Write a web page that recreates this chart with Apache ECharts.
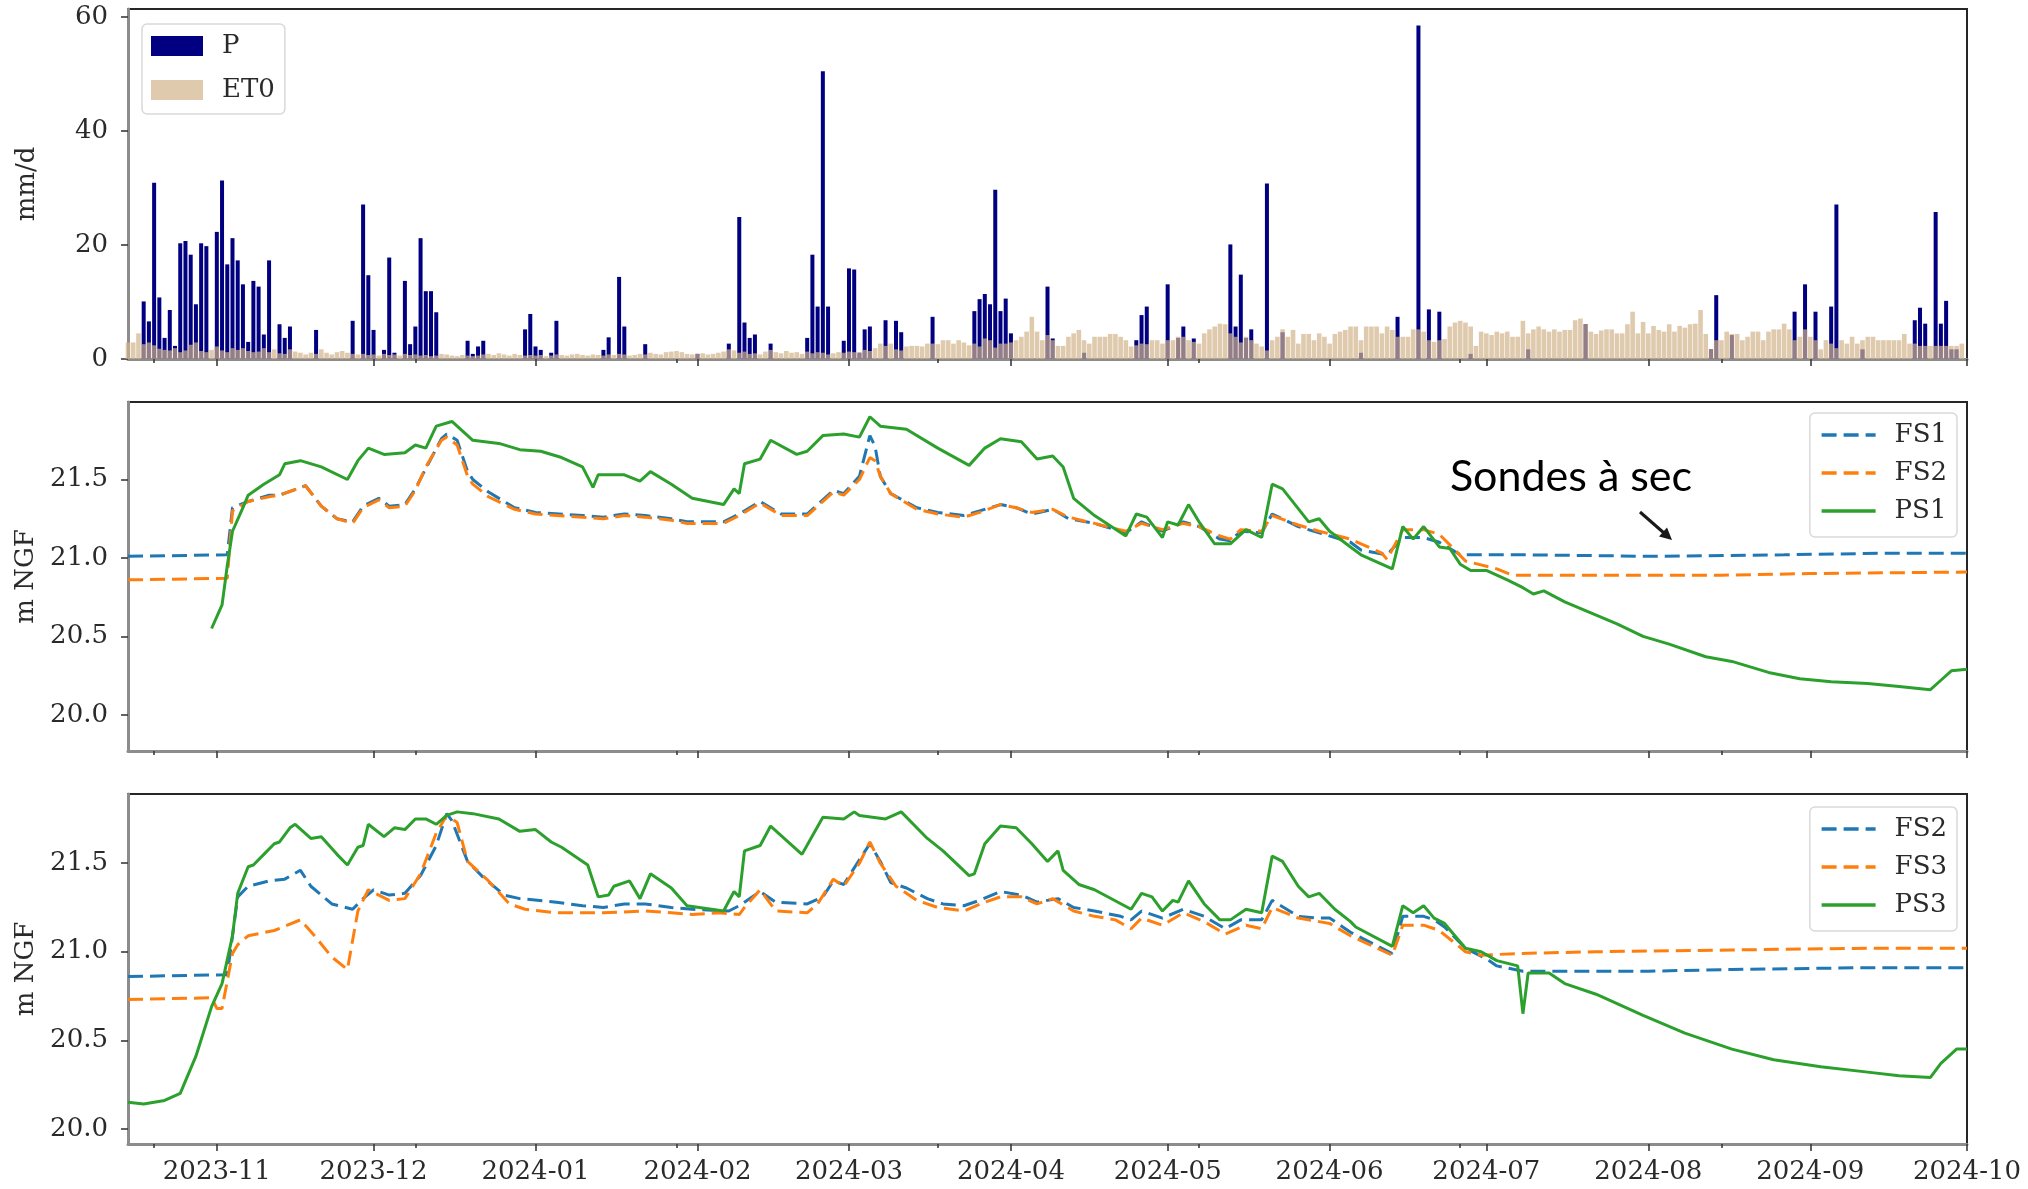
<!DOCTYPE html>
<html>
<head>
<meta charset="utf-8">
<script src="https://cdn.jsdelivr.net/npm/echarts@6/dist/echarts.min.js"></script>
<style>
  html, body { margin: 0; padding: 0; background: #ffffff; }
  #chart { width: 2028px; height: 1189px; }
</style>
</head>
<body>
<div id="chart"></div>
<script>
// ---------------------------------------------------------------------------
// Climate forcing and groundwater levels, Oct 2023 - Oct 2024
// ---------------------------------------------------------------------------

// Time window and ticks
const X_MIN = '2023-10-15';
const X_MAX = '2024-10-01';
const MONTH_TICKS = ['2023-11-01', '2023-12-01', '2024-01-01', '2024-02-01', '2024-03-01', '2024-04-01',
                     '2024-05-01', '2024-06-01', '2024-07-01', '2024-08-01', '2024-09-01', '2024-10-01'];
const MINOR_TICKS = ['2023-10-20', '2023-12-09', '2024-01-28', '2024-03-18', '2024-05-07', '2024-06-26', '2024-08-15'];

const RAIN_TICKS = [0, 20, 40, 60];
const LEVEL_TICKS = [20.0, 20.5, 21.0, 21.5];

// Daily precipitation P (mm/d), rainy days only
const P_AUTUMN = [
  ['2023-10-18', 10.1], ['2023-10-19', 6.6], ['2023-10-20', 30.9], ['2023-10-21', 10.8], ['2023-10-22', 3.7],
  ['2023-10-23', 8.6], ['2023-10-24', 2.3], ['2023-10-25', 20.3], ['2023-10-26', 20.7], ['2023-10-27', 18.3],
  ['2023-10-28', 9.6], ['2023-10-29', 20.3], ['2023-10-30', 19.8],
  ['2023-11-01', 22.3], ['2023-11-02', 31.3], ['2023-11-03', 16.6], ['2023-11-04', 21.2], ['2023-11-05', 17.3],
  ['2023-11-06', 13.1], ['2023-11-07', 3.0], ['2023-11-08', 13.7], ['2023-11-09', 12.7], ['2023-11-10', 4.3],
  ['2023-11-11', 17.3], ['2023-11-13', 6.1], ['2023-11-14', 3.7], ['2023-11-15', 5.7], ['2023-11-20', 5.1],
  ['2023-11-27', 6.7], ['2023-11-29', 27.1], ['2023-11-30', 14.7]
];
const P_WINTER = [
  ['2023-12-01', 5.1], ['2023-12-03', 1.6], ['2023-12-04', 17.8], ['2023-12-05', 1.1], ['2023-12-07', 13.7],
  ['2023-12-08', 2.6], ['2023-12-09', 5.7], ['2023-12-10', 21.2], ['2023-12-11', 11.9], ['2023-12-12', 11.9],
  ['2023-12-13', 8.2], ['2023-12-19', 3.2], ['2023-12-20', 0.9], ['2023-12-21', 2.2], ['2023-12-22', 3.2],
  ['2023-12-30', 5.2], ['2023-12-31', 7.9],
  ['2024-01-01', 2.2], ['2024-01-02', 1.6], ['2024-01-04', 1.1], ['2024-01-05', 6.7], ['2024-01-14', 1.6],
  ['2024-01-15', 3.8], ['2024-01-17', 14.4], ['2024-01-18', 5.7], ['2024-01-22', 2.6],
  ['2024-02-01', 0.9], ['2024-02-07', 2.7], ['2024-02-09', 24.9], ['2024-02-10', 6.4], ['2024-02-11', 3.7],
  ['2024-02-12', 4.3], ['2024-02-15', 2.7], ['2024-02-22', 3.7], ['2024-02-23', 18.3], ['2024-02-24', 9.2],
  ['2024-02-25', 50.5], ['2024-02-26', 9.2], ['2024-02-29', 3.2]
];
const P_SPRING = [
  ['2024-03-01', 15.9], ['2024-03-02', 15.7], ['2024-03-03', 1.1], ['2024-03-04', 5.2], ['2024-03-05', 5.7],
  ['2024-03-08', 6.8], ['2024-03-10', 6.7], ['2024-03-11', 4.7], ['2024-03-17', 7.4], ['2024-03-25', 8.4],
  ['2024-03-26', 10.5], ['2024-03-27', 11.4], ['2024-03-28', 9.6], ['2024-03-29', 29.7], ['2024-03-30', 8.4],
  ['2024-03-31', 10.6],
  ['2024-04-01', 4.5], ['2024-04-08', 12.7], ['2024-04-09', 3.6], ['2024-04-15', 1.1], ['2024-04-25', 3.3],
  ['2024-04-26', 7.7], ['2024-04-27', 9.2],
  ['2024-05-01', 13.1], ['2024-05-03', 3.7], ['2024-05-04', 5.7], ['2024-05-06', 3.6], ['2024-05-13', 20.1],
  ['2024-05-14', 5.7], ['2024-05-15', 14.8], ['2024-05-16', 3.7], ['2024-05-17', 5.2], ['2024-05-20', 30.8],
  ['2024-05-23', 4.7]
];
const P_SUMMER = [
  ['2024-06-07', 1.1], ['2024-06-14', 7.4], ['2024-06-18', 58.5], ['2024-06-20', 8.7], ['2024-06-22', 8.3],
  ['2024-06-28', 0.9],
  ['2024-07-09', 1.7], ['2024-07-20', 6.1],
  ['2024-08-13', 1.7], ['2024-08-14', 11.2], ['2024-08-17', 4.2], ['2024-08-29', 8.3], ['2024-08-31', 13.1],
  ['2024-09-02', 8.3], ['2024-09-05', 9.2], ['2024-09-06', 27.1], ['2024-09-11', 1.7], ['2024-09-21', 6.8],
  ['2024-09-22', 9.0], ['2024-09-23', 6.2], ['2024-09-25', 25.8], ['2024-09-26', 6.2], ['2024-09-27', 10.2],
  ['2024-09-28', 1.7], ['2024-09-29', 1.7]
];

// Daily reference evapotranspiration ET0 (mm/d), one value per day from 15 Oct 2023
const ET0_OCT = [2.9, 2.9, 4.5, 2.6, 2.9, 2.4, 1.8, 1.6, 1.5, 1.9, 1.2, 1.5, 2.5, 2.9, 1.4, 1.2, 1.6];
const ET0_NOV = [2.2, 1.5, 1.2, 1.9, 1.6, 1.9, 1.4, 1.2, 1.3, 1.9, 1.2, 1.7, 1.0, 0.9, 1.7, 1.3, 1.1, 0.8, 1.1, 0.9,
                 1.7, 1.1, 0.8, 1.2, 1.4, 1.1, 0.9, 0.8, 0.9, 0.7];
const ET0_DEC = [0.8, 0.6, 0.9, 0.7, 0.8, 0.6, 0.9, 0.7, 0.8, 0.6, 0.7, 0.5, 0.6, 0.9, 0.8, 0.6, 0.5, 0.7, 0.6, 0.5,
                 0.6, 0.8, 0.9, 0.7, 1.0, 0.8, 0.6, 0.9, 0.7, 0.6, 0.7];
const ET0_JAN = [0.6, 0.7, 0.5, 0.6, 0.8, 0.7, 0.6, 0.8, 0.9, 0.7, 0.6, 0.8, 0.7, 0.6, 0.8, 0.7, 0.9, 0.8, 0.6, 0.7,
                 0.9, 0.8, 1.1, 0.9, 0.8, 1.2, 1.3, 1.4, 1.2, 0.9, 0.8];
const ET0_FEB = [0.9, 1.0, 0.8, 0.9, 1.1, 1.3, 1.7, 1.5, 1.1, 1.3, 0.9, 1.0, 0.8, 1.3, 1.6, 1.2, 1.0, 1.4, 1.1, 1.2,
                 0.9, 1.3, 1.0, 1.2, 1.1, 0.8, 1.0, 1.2, 1.1];
const ET0_MAR = [1.3, 1.2, 1.1, 1.6, 1.4, 1.9, 2.7, 2.3, 2.7, 1.7, 1.5, 2.2, 2.3, 2.3, 2.2, 2.7, 2.7, 2.6, 3.3, 3.3,
                 2.7, 3.3, 2.9, 2.4, 2.7, 2.2, 3.6, 3.3, 2.0, 2.7, 2.7];
const ET0_APR = [2.9, 3.3, 3.9, 4.8, 7.4, 4.8, 3.3, 4.2, 3.3, 2.3, 2.3, 3.9, 4.5, 5.1, 3.3, 2.7, 3.9, 3.9, 3.9, 4.4,
                 4.4, 3.9, 3.3, 2.2, 2.4, 2.7, 2.6, 3.3, 3.3, 2.7];
const ET0_MAY = [3.3, 3.3, 3.9, 3.9, 3.3, 3.0, 2.7, 4.5, 5.2, 5.7, 6.2, 6.1, 4.5, 3.9, 2.9, 3.9, 3.3, 2.7, 2.2, 1.5,
                 3.3, 3.9, 5.2, 3.9, 5.1, 2.7, 4.4, 4.4, 3.3, 4.5, 3.9];
const ET0_JUN = [2.7, 4.4, 4.8, 5.1, 5.7, 5.7, 3.3, 5.7, 5.7, 5.7, 4.5, 5.7, 5.1, 3.9, 3.9, 3.9, 5.2, 5.2, 4.8, 3.3,
                 3.0, 3.3, 3.5, 5.7, 6.4, 6.7, 6.4, 5.7, 2.3, 4.8];
const ET0_JUL = [4.5, 4.2, 4.8, 4.5, 4.8, 3.9, 3.9, 6.7, 4.5, 5.2, 5.7, 5.2, 4.8, 5.2, 4.8, 5.1, 5.1, 6.8, 7.1, 6.1,
                 4.8, 4.4, 5.0, 5.2, 5.2, 4.5, 4.5, 6.1, 8.3, 4.5, 6.5];
const ET0_AUG = [4.5, 5.8, 5.1, 4.8, 6.1, 4.8, 5.8, 5.5, 6.1, 6.2, 8.6, 4.4, 1.7, 3.3, 3.3, 4.8, 4.4, 4.4, 3.3, 3.9,
                 4.8, 4.8, 3.3, 4.8, 5.2, 5.2, 6.2, 5.2, 3.3, 3.9, 5.2];
const ET0_SEP = [3.9, 3.3, 1.7, 3.3, 2.7, 1.9, 3.3, 2.7, 3.9, 2.7, 3.3, 3.9, 3.9, 3.3, 3.3, 3.3, 3.3, 3.3, 4.4, 2.7,
                 2.7, 2.3, 2.3, 2.3, 2.3, 2.3, 2.3, 2.3, 2.3, 2.7];

// Groundwater levels (m NGF) — first site: FS1, FS2, PS1
const FS1_A = [
  ['2023-10-15', 21.01], ['2023-11-03', 21.02], ['2023-11-04', 21.32], ['2023-11-07', 21.36], ['2023-11-11', 21.40],
  ['2023-11-13', 21.40], ['2023-11-18', 21.46], ['2023-11-21', 21.33], ['2023-11-24', 21.25], ['2023-11-27', 21.23],
  ['2023-11-29', 21.33], ['2023-12-02', 21.38], ['2023-12-04', 21.33], ['2023-12-07', 21.34], ['2023-12-09', 21.44],
  ['2023-12-11', 21.57], ['2023-12-14', 21.76], ['2023-12-15', 21.79], ['2023-12-17', 21.75], ['2023-12-19', 21.55],
  ['2023-12-20', 21.50], ['2023-12-23', 21.42], ['2023-12-28', 21.32], ['2024-01-01', 21.29], ['2024-01-10', 21.27],
  ['2024-01-14', 21.26], ['2024-01-18', 21.28], ['2024-01-22', 21.27], ['2024-01-27', 21.25], ['2024-01-30', 21.23],
  ['2024-02-06', 21.23], ['2024-02-09', 21.28], ['2024-02-13', 21.36], ['2024-02-17', 21.28], ['2024-02-22', 21.28],
  ['2024-02-24', 21.34], ['2024-02-27', 21.43], ['2024-02-29', 21.41], ['2024-03-03', 21.52], ['2024-03-05', 21.78],
  ['2024-03-06', 21.71], ['2024-03-07', 21.52], ['2024-03-09', 21.41], ['2024-03-14', 21.32], ['2024-03-18', 21.29],
  ['2024-03-23', 21.27], ['2024-03-26', 21.30], ['2024-03-30', 21.34], ['2024-04-02', 21.32], ['2024-04-05', 21.28],
  ['2024-04-09', 21.31], ['2024-04-12', 21.25], ['2024-04-17', 21.22], ['2024-04-23', 21.16], ['2024-04-26', 21.23],
  ['2024-04-30', 21.17], ['2024-05-04', 21.23], ['2024-05-07', 21.20], ['2024-05-11', 21.12], ['2024-05-13', 21.11],
  ['2024-05-15', 21.17], ['2024-05-19', 21.16], ['2024-05-21', 21.28], ['2024-05-26', 21.20], ['2024-05-30', 21.16],
  ['2024-06-05', 21.10], ['2024-06-07', 21.05], ['2024-06-12', 21.02], ['2024-06-15', 21.13], ['2024-06-19', 21.13],
  ['2024-06-22', 21.10], ['2024-06-26', 21.02], ['2024-07-08', 21.02], ['2024-08-02', 21.01], ['2024-08-27', 21.02],
  ['2024-09-16', 21.03], ['2024-10-01', 21.03]
];
const FS2_A = [
  ['2023-10-15', 20.86], ['2023-11-03', 20.87], ['2023-11-04', 21.30], ['2023-11-07', 21.36], ['2023-11-11', 21.39],
  ['2023-11-13', 21.40], ['2023-11-18', 21.46], ['2023-11-21', 21.33], ['2023-11-24', 21.25], ['2023-11-27', 21.22],
  ['2023-11-29', 21.32], ['2023-12-02', 21.37], ['2023-12-04', 21.32], ['2023-12-07', 21.33], ['2023-12-09', 21.43],
  ['2023-12-11', 21.58], ['2023-12-14', 21.75], ['2023-12-15', 21.77], ['2023-12-17', 21.72], ['2023-12-19', 21.52],
  ['2023-12-20', 21.47], ['2023-12-23', 21.39], ['2023-12-28', 21.31], ['2024-01-01', 21.28], ['2024-01-10', 21.26],
  ['2024-01-14', 21.25], ['2024-01-18', 21.27], ['2024-01-22', 21.26], ['2024-01-27', 21.24], ['2024-01-30', 21.22],
  ['2024-02-06', 21.22], ['2024-02-09', 21.27], ['2024-02-13', 21.35], ['2024-02-17', 21.27], ['2024-02-22', 21.27],
  ['2024-02-24', 21.33], ['2024-02-27', 21.42], ['2024-02-29', 21.40], ['2024-03-03', 21.50], ['2024-03-05', 21.64],
  ['2024-03-06', 21.62], ['2024-03-07', 21.52], ['2024-03-09', 21.41], ['2024-03-14', 21.31], ['2024-03-18', 21.28],
  ['2024-03-23', 21.26], ['2024-03-26', 21.29], ['2024-03-30', 21.34], ['2024-04-02', 21.32], ['2024-04-05', 21.29],
  ['2024-04-09', 21.31], ['2024-04-12', 21.26], ['2024-04-17', 21.22], ['2024-04-23', 21.17], ['2024-04-26', 21.22],
  ['2024-04-30', 21.18], ['2024-05-04', 21.22], ['2024-05-07', 21.20], ['2024-05-11', 21.14], ['2024-05-13', 21.12],
  ['2024-05-15', 21.18], ['2024-05-19', 21.17], ['2024-05-21', 21.27], ['2024-05-26', 21.21], ['2024-05-30', 21.17],
  ['2024-06-05', 21.12], ['2024-06-07', 21.09], ['2024-06-11', 21.03], ['2024-06-12', 20.99], ['2024-06-15', 21.18],
  ['2024-06-19', 21.18], ['2024-06-22', 21.15], ['2024-06-25', 21.05], ['2024-06-27', 20.98], ['2024-07-03', 20.93],
  ['2024-07-06', 20.89], ['2024-08-15', 20.89], ['2024-09-01', 20.90], ['2024-10-01', 20.91]
];
const PS1_A = [
  ['2023-10-31', 20.55], ['2023-11-02', 20.70], ['2023-11-03', 20.95], ['2023-11-04', 21.17], ['2023-11-06', 21.32],
  ['2023-11-07', 21.40], ['2023-11-10', 21.47], ['2023-11-13', 21.53], ['2023-11-14', 21.60], ['2023-11-17', 21.62],
  ['2023-11-21', 21.58], ['2023-11-26', 21.50], ['2023-11-28', 21.62], ['2023-11-30', 21.70], ['2023-12-03', 21.66],
  ['2023-12-07', 21.67], ['2023-12-09', 21.72], ['2023-12-11', 21.70], ['2023-12-13', 21.84], ['2023-12-16', 21.87],
  ['2023-12-17', 21.84], ['2023-12-20', 21.75], ['2023-12-25', 21.73], ['2023-12-29', 21.69], ['2024-01-02', 21.68],
  ['2024-01-06', 21.64], ['2024-01-10', 21.58], ['2024-01-12', 21.45], ['2024-01-13', 21.53], ['2024-01-18', 21.53],
  ['2024-01-21', 21.49], ['2024-01-23', 21.55], ['2024-01-27', 21.47], ['2024-01-31', 21.38], ['2024-02-06', 21.34],
  ['2024-02-08', 21.44], ['2024-02-09', 21.41], ['2024-02-10', 21.60], ['2024-02-13', 21.63], ['2024-02-15', 21.75],
  ['2024-02-20', 21.66], ['2024-02-22', 21.68], ['2024-02-25', 21.78], ['2024-02-29', 21.79], ['2024-03-03', 21.77],
  ['2024-03-05', 21.90], ['2024-03-07', 21.84], ['2024-03-12', 21.82], ['2024-03-18', 21.70], ['2024-03-24', 21.59],
  ['2024-03-27', 21.70], ['2024-03-30', 21.76], ['2024-04-03', 21.74], ['2024-04-06', 21.63], ['2024-04-09', 21.65],
  ['2024-04-11', 21.58], ['2024-04-13', 21.38], ['2024-04-17', 21.27], ['2024-04-23', 21.14], ['2024-04-25', 21.28],
  ['2024-04-27', 21.26], ['2024-04-30', 21.13], ['2024-05-01', 21.23], ['2024-05-03', 21.21], ['2024-05-05', 21.34],
  ['2024-05-07', 21.23], ['2024-05-10', 21.09], ['2024-05-13', 21.09], ['2024-05-16', 21.18], ['2024-05-19', 21.13],
  ['2024-05-21', 21.47], ['2024-05-23', 21.44], ['2024-05-28', 21.23], ['2024-05-30', 21.25], ['2024-06-01', 21.17],
  ['2024-06-05', 21.07], ['2024-06-07', 21.02], ['2024-06-13', 20.93], ['2024-06-15', 21.20], ['2024-06-17', 21.12],
  ['2024-06-19', 21.20], ['2024-06-22', 21.07], ['2024-06-24', 21.06], ['2024-06-26', 20.96], ['2024-06-28', 20.92],
  ['2024-07-01', 20.92], ['2024-07-05', 20.86], ['2024-07-08', 20.81], ['2024-07-10', 20.77], ['2024-07-12', 20.79],
  ['2024-07-16', 20.72], ['2024-07-21', 20.65], ['2024-07-26', 20.58], ['2024-07-31', 20.50], ['2024-08-05', 20.45],
  ['2024-08-12', 20.37], ['2024-08-17', 20.34], ['2024-08-24', 20.27], ['2024-08-30', 20.23], ['2024-09-05', 20.21],
  ['2024-09-12', 20.20], ['2024-09-18', 20.18], ['2024-09-24', 20.16], ['2024-09-26', 20.22], ['2024-09-28', 20.28],
  ['2024-10-01', 20.29]
];

// Groundwater levels (m NGF) — second site: FS2, FS3, PS3
const FS2_B = [
  ['2023-10-15', 20.86], ['2023-11-03', 20.87], ['2023-11-05', 21.31], ['2023-11-07', 21.37], ['2023-11-11', 21.40],
  ['2023-11-14', 21.41], ['2023-11-17', 21.46], ['2023-11-19', 21.37], ['2023-11-23', 21.27], ['2023-11-27', 21.24],
  ['2023-11-29', 21.30], ['2023-12-01', 21.35], ['2023-12-04', 21.32], ['2023-12-07', 21.33], ['2023-12-10', 21.43],
  ['2023-12-13', 21.60], ['2023-12-15', 21.78], ['2023-12-16', 21.74], ['2023-12-19', 21.51], ['2023-12-22', 21.42],
  ['2023-12-26', 21.32], ['2023-12-29', 21.30], ['2024-01-05', 21.28], ['2024-01-10', 21.26], ['2024-01-14', 21.25],
  ['2024-01-18', 21.27], ['2024-01-22', 21.27], ['2024-01-27', 21.25], ['2024-01-31', 21.24], ['2024-02-07', 21.23],
  ['2024-02-09', 21.26], ['2024-02-13', 21.34], ['2024-02-16', 21.28], ['2024-02-22', 21.27], ['2024-02-25', 21.31],
  ['2024-02-27', 21.40], ['2024-02-29', 21.38], ['2024-03-03', 21.52], ['2024-03-05', 21.61], ['2024-03-07', 21.51],
  ['2024-03-09', 21.39], ['2024-03-12', 21.36], ['2024-03-16', 21.30], ['2024-03-19', 21.27], ['2024-03-23', 21.26],
  ['2024-03-26', 21.29], ['2024-03-30', 21.34], ['2024-04-03', 21.32], ['2024-04-06', 21.28], ['2024-04-10', 21.30],
  ['2024-04-13', 21.25], ['2024-04-17', 21.23], ['2024-04-22', 21.20], ['2024-04-24', 21.18], ['2024-04-26', 21.23],
  ['2024-04-30', 21.19], ['2024-05-04', 21.24], ['2024-05-08', 21.20], ['2024-05-12', 21.13], ['2024-05-15', 21.18],
  ['2024-05-19', 21.18], ['2024-05-21', 21.29], ['2024-05-26', 21.20], ['2024-05-30', 21.19], ['2024-06-01', 21.19],
  ['2024-06-05', 21.11], ['2024-06-13', 20.99], ['2024-06-15', 21.20], ['2024-06-19', 21.20], ['2024-06-21', 21.18],
  ['2024-06-23', 21.14], ['2024-06-27', 21.02], ['2024-07-01', 20.96], ['2024-07-03', 20.92], ['2024-07-08', 20.89],
  ['2024-08-01', 20.89], ['2024-08-17', 20.90], ['2024-09-12', 20.91], ['2024-10-01', 20.91]
];
const FS3_B = [
  ['2023-10-15', 20.73], ['2023-10-31', 20.74], ['2023-11-01', 20.68], ['2023-11-02', 20.68], ['2023-11-04', 20.99],
  ['2023-11-05', 21.04], ['2023-11-07', 21.09], ['2023-11-12', 21.12], ['2023-11-17', 21.18], ['2023-11-20', 21.08],
  ['2023-11-23', 20.97], ['2023-11-26', 20.90], ['2023-11-28', 21.23], ['2023-11-30', 21.35], ['2023-12-04', 21.29],
  ['2023-12-07', 21.30], ['2023-12-10', 21.44], ['2023-12-13', 21.67], ['2023-12-15', 21.77], ['2023-12-17', 21.73],
  ['2023-12-19', 21.51], ['2023-12-23', 21.40], ['2023-12-27', 21.27], ['2023-12-30', 21.24], ['2024-01-05', 21.22],
  ['2024-01-14', 21.22], ['2024-01-22', 21.23], ['2024-01-27', 21.22], ['2024-01-31', 21.21], ['2024-02-05', 21.22],
  ['2024-02-09', 21.21], ['2024-02-10', 21.25], ['2024-02-13', 21.35], ['2024-02-16', 21.23], ['2024-02-22', 21.22],
  ['2024-02-24', 21.27], ['2024-02-27', 21.41], ['2024-02-29', 21.37], ['2024-03-03', 21.50], ['2024-03-05', 21.62],
  ['2024-03-07', 21.50], ['2024-03-10', 21.37], ['2024-03-14', 21.29], ['2024-03-18', 21.25], ['2024-03-23', 21.23],
  ['2024-03-27', 21.28], ['2024-03-30', 21.31], ['2024-04-03', 21.31], ['2024-04-06', 21.27], ['2024-04-09', 21.30],
  ['2024-04-13', 21.23], ['2024-04-17', 21.20], ['2024-04-21', 21.18], ['2024-04-24', 21.13], ['2024-04-26', 21.19],
  ['2024-04-30', 21.15], ['2024-05-04', 21.22], ['2024-05-08', 21.17], ['2024-05-12', 21.10], ['2024-05-16', 21.15],
  ['2024-05-19', 21.13], ['2024-05-21', 21.25], ['2024-05-26', 21.19], ['2024-05-30', 21.17], ['2024-06-01', 21.16],
  ['2024-06-05', 21.09], ['2024-06-13', 20.98], ['2024-06-15', 21.15], ['2024-06-19', 21.15], ['2024-06-22', 21.12],
  ['2024-06-27', 21.00], ['2024-06-30', 20.98], ['2024-07-07', 20.99], ['2024-07-22', 21.00], ['2024-08-17', 21.01],
  ['2024-09-12', 21.02], ['2024-10-01', 21.02]
];
const PS3_B = [
  ['2023-10-15', 20.15], ['2023-10-18', 20.14], ['2023-10-22', 20.16], ['2023-10-25', 20.20], ['2023-10-28', 20.41],
  ['2023-10-31', 20.69], ['2023-11-02', 20.82], ['2023-11-04', 21.09], ['2023-11-05', 21.33], ['2023-11-07', 21.48],
  ['2023-11-08', 21.49], ['2023-11-10', 21.55], ['2023-11-12', 21.61], ['2023-11-13', 21.62], ['2023-11-15', 21.70],
  ['2023-11-16', 21.72], ['2023-11-19', 21.64], ['2023-11-21', 21.65], ['2023-11-24', 21.55], ['2023-11-26', 21.49],
  ['2023-11-28', 21.59], ['2023-11-29', 21.60], ['2023-11-30', 21.72], ['2023-12-03', 21.65], ['2023-12-05', 21.70],
  ['2023-12-07', 21.69], ['2023-12-09', 21.75], ['2023-12-11', 21.75], ['2023-12-13', 21.72], ['2023-12-15', 21.77],
  ['2023-12-17', 21.79], ['2023-12-20', 21.78], ['2023-12-25', 21.75], ['2023-12-29', 21.68], ['2024-01-01', 21.69],
  ['2024-01-04', 21.62], ['2024-01-06', 21.59], ['2024-01-11', 21.49], ['2024-01-13', 21.31], ['2024-01-15', 21.32],
  ['2024-01-16', 21.37], ['2024-01-19', 21.40], ['2024-01-21', 21.30], ['2024-01-23', 21.44], ['2024-01-27', 21.36],
  ['2024-01-30', 21.26], ['2024-02-06', 21.23], ['2024-02-08', 21.34], ['2024-02-09', 21.31], ['2024-02-10', 21.57],
  ['2024-02-13', 21.60], ['2024-02-15', 21.71], ['2024-02-21', 21.55], ['2024-02-25', 21.76], ['2024-02-29', 21.75],
  ['2024-03-02', 21.79], ['2024-03-03', 21.77], ['2024-03-08', 21.75], ['2024-03-11', 21.79], ['2024-03-16', 21.64],
  ['2024-03-19', 21.57], ['2024-03-24', 21.43], ['2024-03-25', 21.44], ['2024-03-27', 21.61], ['2024-03-30', 21.71],
  ['2024-04-02', 21.70], ['2024-04-05', 21.61], ['2024-04-08', 21.51], ['2024-04-10', 21.57], ['2024-04-11', 21.46],
  ['2024-04-14', 21.38], ['2024-04-17', 21.35], ['2024-04-24', 21.24], ['2024-04-26', 21.33], ['2024-04-28', 21.31],
  ['2024-04-30', 21.23], ['2024-05-02', 21.29], ['2024-05-03', 21.28], ['2024-05-05', 21.40], ['2024-05-08', 21.27],
  ['2024-05-11', 21.18], ['2024-05-13', 21.18], ['2024-05-16', 21.24], ['2024-05-19', 21.22], ['2024-05-21', 21.54],
  ['2024-05-23', 21.51], ['2024-05-26', 21.37], ['2024-05-28', 21.31], ['2024-05-30', 21.33], ['2024-06-02', 21.24],
  ['2024-06-05', 21.17], ['2024-06-06', 21.14], ['2024-06-13', 21.03], ['2024-06-15', 21.26], ['2024-06-17', 21.22],
  ['2024-06-19', 21.26], ['2024-06-21', 21.19], ['2024-06-23', 21.16], ['2024-06-27', 21.02], ['2024-06-30', 21.00],
  ['2024-07-03', 20.95], ['2024-07-07', 20.92], ['2024-07-08', 20.65], ['2024-07-09', 20.88], ['2024-07-13', 20.88],
  ['2024-07-16', 20.82], ['2024-07-22', 20.76], ['2024-07-31', 20.64], ['2024-08-08', 20.54], ['2024-08-17', 20.45],
  ['2024-08-25', 20.39], ['2024-09-03', 20.35], ['2024-09-12', 20.32], ['2024-09-18', 20.30], ['2024-09-24', 20.29],
  ['2024-09-26', 20.37], ['2024-09-29', 20.45], ['2024-10-01', 20.45]
];

// ---------------------------------------------------------------------------
// Helpers and styling
// ---------------------------------------------------------------------------
const SERIF = '"DejaVu Serif", "Liberation Serif", serif';
const TEXT_COLOR = '#2a2a2a';
const C_BLUE = '#1f77b4', C_ORANGE = '#ff7f0e', C_GREEN = '#2ca02c';
const DASH = [15, 7];

function ts(s) {
  const p = s.split('-').map(Number);
  return new Date(p[0], p[1] - 1, p[2]).getTime();
}
function fmtMonth(v) {
  const d = new Date(v);
  return d.getFullYear() + '-' + String(d.getMonth() + 1).padStart(2, '0');
}
const withTime = rows => rows.map(r => [ts(r[0]), r[1]]);

const ET0_DAILY = [].concat(ET0_OCT, ET0_NOV, ET0_DEC, ET0_JAN, ET0_FEB, ET0_MAR,
                            ET0_APR, ET0_MAY, ET0_JUN, ET0_JUL, ET0_AUG, ET0_SEP);
const ET0_DATA = ET0_DAILY.map((v, i) => [new Date(2023, 9, 15 + i).getTime(), v]);
const P_DATA = withTime([].concat(P_AUTUMN, P_WINTER, P_SPRING, P_SUMMER));

const GRIDS = [
  { left: 128, top: 9, width: 1839, height: 350 },
  { left: 128, top: 402, width: 1839, height: 349 },
  { left: 128, top: 794, width: 1839, height: 350 }
];

// Date axes are numeric (timestamps) so the tick positions can be listed explicitly
function mainX(gridIndex, showLabels) {
  return {
    type: 'value', gridIndex: gridIndex, min: ts(X_MIN), max: ts(X_MAX), position: 'bottom',
    axisLine: { show: true, onZero: false, lineStyle: { color: '#8c8c8c', width: 3 } },
    axisTick: { show: true, length: 7, customValues: MONTH_TICKS.map(ts),
                lineStyle: { color: '#3a3a3a', width: 1.6 } },
    axisLabel: { show: showLabels, customValues: MONTH_TICKS.map(ts), formatter: fmtMonth,
                 fontFamily: SERIF, fontSize: 26, color: TEXT_COLOR, margin: 15,
                 showMinLabel: true, showMaxLabel: true, hideOverlap: false },
    splitLine: { show: false }
  };
}
function minorX(gridIndex) {
  return {
    type: 'value', gridIndex: gridIndex, min: ts(X_MIN), max: ts(X_MAX), position: 'bottom', offset: 0,
    axisLine: { show: false, onZero: false },
    axisTick: { show: true, length: 4, customValues: MINOR_TICKS.map(ts),
                lineStyle: { color: '#3a3a3a', width: 1.6 } },
    axisLabel: { show: false },
    splitLine: { show: false }
  };
}
function levelY(gridIndex, min, max, ticks, name, decimals) {
  return {
    type: 'value', gridIndex: gridIndex, min: min, max: max,
    name: name, nameLocation: 'middle', nameRotate: 90, nameGap: 88,
    nameTextStyle: { fontFamily: SERIF, fontSize: 26, color: TEXT_COLOR },
    axisLine: { show: true, onZero: false, lineStyle: { color: '#8c8c8c', width: 3 } },
    axisTick: { show: true, length: 7, customValues: ticks, lineStyle: { color: '#3a3a3a', width: 1.6 } },
    axisLabel: { customValues: ticks, formatter: v => Number(v).toFixed(decimals),
                 fontFamily: SERIF, fontSize: 26, color: TEXT_COLOR, margin: 20 },
    splitLine: { show: false }
  };
}
function levelLine(name, rows, xi, yi, color, dashed) {
  return {
    type: 'line', name: name, xAxisIndex: xi, yAxisIndex: yi, data: withTime(rows),
    symbol: 'none', showSymbol: false, smooth: false,
    lineStyle: { color: color, width: 3, type: dashed ? DASH : 'solid' },
    itemStyle: { color: color },
    emphasis: { disabled: true }
  };
}
// Legend keys for the level panels show only the line (no marker)
function lineLegend(top, names) {
  return {
    orient: 'vertical', right: 71, top: top, data: names,
    itemWidth: 54, itemHeight: 14, itemGap: 12,
    padding: [9, 10, 13, 10],
    backgroundColor: 'rgba(255,255,255,0.85)', borderColor: '#d9d9d9', borderWidth: 1.5, borderRadius: 5,
    itemStyle: { opacity: 0, borderWidth: 0 },
    lineStyle: { width: 3.5 },
    formatter: n => n.replace('#2', ''),
    textStyle: { fontFamily: SERIF, fontSize: 26, color: TEXT_COLOR, lineHeight: 26, padding: [0, 0, 0, 14] },
    selectedMode: false
  };
}

const option = {
  backgroundColor: '#ffffff',
  animation: false,
  grid: GRIDS.map(g => Object.assign({ show: true, borderColor: '#262626', borderWidth: 2,
                                       backgroundColor: 'transparent', containLabel: false }, g)),
  xAxis: [mainX(0, false), minorX(0), mainX(1, false), minorX(1), mainX(2, true), minorX(2)],
  yAxis: [
    levelY(0, 0, 61.4, RAIN_TICKS, 'mm/d', 0),
    levelY(1, 19.769, 21.994, LEVEL_TICKS, 'm NGF', 1),
    levelY(2, 19.914, 21.891, LEVEL_TICKS, 'm NGF', 1)
  ],
  legend: [
    {
      orient: 'vertical', left: 142, top: 24, data: ['P', 'ET0'], icon: 'rect',
      itemWidth: 52, itemHeight: 20, itemGap: 18,
      padding: [9, 10, 11, 9],
      backgroundColor: 'rgba(255,255,255,0.85)', borderColor: '#d9d9d9', borderWidth: 1.5, borderRadius: 5,
      textStyle: { fontFamily: SERIF, fontSize: 26, color: TEXT_COLOR, padding: [0, 0, 0, 14] },
      selectedMode: false
    },
    lineLegend(413, ['FS1', 'FS2', 'PS1']),
    lineLegend(807, ['FS2#2', 'FS3', 'PS3'])
  ],
  series: [
    { type: 'bar', name: 'P', xAxisIndex: 0, yAxisIndex: 0, data: P_DATA, barWidth: 4,
      itemStyle: { color: '#000080' }, emphasis: { disabled: true } },
    { type: 'bar', name: 'ET0', xAxisIndex: 1, yAxisIndex: 0, data: ET0_DATA, barWidth: 4.6,
      itemStyle: { color: 'rgba(210,180,140,0.7)' }, emphasis: { disabled: true } },
    levelLine('FS1', FS1_A, 2, 1, C_BLUE, true),
    levelLine('FS2', FS2_A, 2, 1, C_ORANGE, true),
    levelLine('PS1', PS1_A, 2, 1, C_GREEN, false),
    levelLine('FS2#2', FS2_B, 4, 2, C_BLUE, true),
    levelLine('FS3', FS3_B, 4, 2, C_ORANGE, true),
    levelLine('PS3', PS3_B, 4, 2, C_GREEN, false)
  ],
  graphic: [
    { type: 'text', z: 100, style: { x: 1571, y: 477, text: 'Sondes à sec', textAlign: 'center',
        textVerticalAlign: 'middle', font: '43px Lato, "Open Sans", sans-serif', fill: '#000000' } },
    { type: 'line', z: 100, shape: { x1: 1640, y1: 512, x2: 1664, y2: 533 },
      style: { stroke: '#1a1a1a', lineWidth: 3 } },
    { type: 'polygon', z: 100, shape: { points: [[1672, 540], [1659, 536.6], [1667, 527.6]] },
      style: { fill: '#1a1a1a' } }
  ]
};

const chart = echarts.init(document.getElementById('chart'), null, { renderer: 'canvas' });
chart.setOption(option);
</script>
</body>
</html>
